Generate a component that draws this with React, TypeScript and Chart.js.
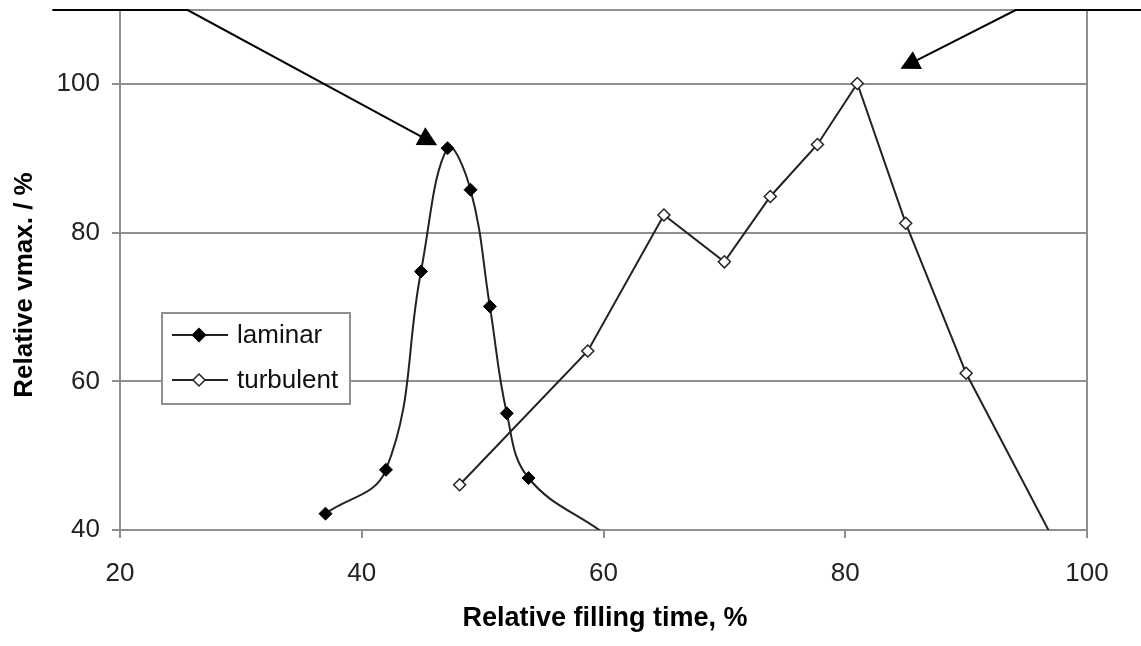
import React, { useEffect, useRef } from "react";
import { Chart, registerables } from "chart.js";

Chart.register(...registerables);

// ---- data ----
const laminarX = [37, 42, 44.9, 47.1, 49.0, 50.6, 52.0, 53.8, 60];
const laminarY = [42.2, 48.1, 74.8, 91.4, 85.8, 70.1, 55.7, 47.0, 39.6];
const turbulentX = [48.1, 58.7, 65, 70, 73.8, 77.7, 81, 85, 90, 97];
const turbulentY = [46.1, 64.1, 82.4, 76.1, 84.9, 91.9, 100.1, 81.3, 61.1, 39.4];
const seriesNames = ["laminar", "turbulent"];
const xTicks = [20, 40, 60, 80, 100];
const yTicks = [40, 60, 80, 100];
const xRange = [20, 100];
const yRange = [40, 110];
const xTitle = "Relative filling time, %";
const yTitle = "Relative vmax. / %";
// annotation arrows (data coordinates): tail -> elbow -> tip
const arrowTails = [[14.4, 110], [104.5, 110]];
const arrowElbows = [[25.6, 110], [94.1, 110]];
const arrowTips = [[46.24, 91.8], [84.57, 102.1]];

const FONT = "'Liberation Sans', Arial, Helvetica, sans-serif";
const GRAY = "#8f8f8f";
const LINE = "#222222";

export default function App() {
  const ref = useRef<HTMLCanvasElement | null>(null);

  useEffect(() => {
    const canvas = ref.current;
    if (!canvas) return;

    const annot = {
      id: "annot",
      afterDraw(chart: any) {
        const { ctx } = chart;
        const xs = chart.scales.x;
        const ys = chart.scales.y;
        const px = (p: number[]) => [xs.getPixelForValue(p[0]), ys.getPixelForValue(p[1])];
        ctx.save();

        // arrows
        ctx.strokeStyle = "#000";
        ctx.fillStyle = "#000";
        ctx.lineWidth = 2;
        for (let i = 0; i < arrowTips.length; i++) {
          const t = px(arrowTails[i]);
          const e = px(arrowElbows[i]);
          const tip = px(arrowTips[i]);
          const dx = tip[0] - e[0];
          const dy = tip[1] - e[1];
          const len = Math.hypot(dx, dy);
          const ux = dx / len;
          const uy = dy / len;
          const L = 19;
          const W = 10;
          const bx = tip[0] - ux * L;
          const by = tip[1] - uy * L;
          ctx.beginPath();
          ctx.moveTo(t[0], t[1]);
          ctx.lineTo(e[0], e[1]);
          ctx.lineTo(bx + ux * 2, by + uy * 2);
          ctx.stroke();
          ctx.beginPath();
          ctx.moveTo(tip[0], tip[1]);
          ctx.lineTo(bx - uy * W, by + ux * W);
          ctx.lineTo(bx + uy * W, by - ux * W);
          ctx.closePath();
          ctx.fill();
        }

        // legend box
        const bx0 = 162, by0 = 313, bw = 188, bh = 91;
        ctx.fillStyle = "#fff";
        ctx.fillRect(bx0, by0, bw, bh);
        ctx.strokeStyle = GRAY;
        ctx.lineWidth = 2;
        ctx.strokeRect(bx0, by0, bw, bh);
        chart.data.datasets.forEach((ds: any, i: number) => {
          const cy = 335 + i * 45;
          ctx.strokeStyle = LINE;
          ctx.lineWidth = 2;
          ctx.beginPath();
          ctx.moveTo(172, cy);
          ctx.lineTo(228, cy);
          ctx.stroke();
          const r = i === 0 ? 6.5 : 6;
          const cx = 199;
          ctx.beginPath();
          ctx.moveTo(cx, cy - r);
          ctx.lineTo(cx + r, cy);
          ctx.lineTo(cx, cy + r);
          ctx.lineTo(cx - r, cy);
          ctx.closePath();
          ctx.fillStyle = ds.pointBackgroundColor;
          ctx.fill();
          ctx.lineWidth = 1.5;
          ctx.strokeStyle = ds.pointBorderColor;
          ctx.stroke();
          ctx.fillStyle = "#111";
          ctx.font = `26px ${FONT}`;
          ctx.textAlign = "left";
          ctx.textBaseline = "middle";
          ctx.fillText(ds.label, 237, cy + 1);
        });

        // axis titles
        ctx.fillStyle = "#000";
        ctx.font = `bold 27px ${FONT}`;
        ctx.textAlign = "center";
        ctx.textBaseline = "middle";
        ctx.fillText(xTitle, 605, 619);
        ctx.save();
        ctx.translate(25, 285);
        ctx.rotate(-Math.PI / 2);
        ctx.font = `bold 26px ${FONT}`;
        ctx.fillText(yTitle, 0, 0);
        ctx.restore();

        ctx.restore();
      },
    };

    const lastIdx = (n: number) => n - 1;

    const chart = new Chart(canvas, {
      type: "line",
      data: {
        datasets: [
          {
            label: seriesNames[0],
            data: laminarX.map((x, i) => ({ x, y: laminarY[i] })),
            borderColor: LINE,
            borderWidth: 2,
            tension: 0.4,
            pointStyle: "rectRot",
            pointRadius: (c: any) => (c.dataIndex === lastIdx(laminarX.length) ? 0 : 6.5),
            pointBackgroundColor: "#000",
            pointBorderColor: "#000",
            pointBorderWidth: 1,
            fill: false,
          },
          {
            label: seriesNames[1],
            data: turbulentX.map((x, i) => ({ x, y: turbulentY[i] })),
            borderColor: LINE,
            borderWidth: 2,
            tension: 0,
            pointStyle: "rectRot",
            pointRadius: (c: any) => (c.dataIndex === lastIdx(turbulentX.length) ? 0 : 6),
            pointBackgroundColor: "#fff",
            pointBorderColor: "#222",
            pointBorderWidth: 1.5,
            fill: false,
          },
        ],
      },
      options: {
        responsive: false,
        animation: false,
        devicePixelRatio: 1,
        layout: { padding: { left: 0, top: 10, right: 54, bottom: 0 } },
        plugins: {
          legend: { display: false },
          tooltip: { enabled: false },
        },
        scales: {
          x: {
            type: "linear",
            min: xRange[0],
            max: xRange[1],
            afterBuildTicks: (s: any) => {
              s.ticks = xTicks.map((v) => ({ value: v }));
            },
            afterFit: (s: any) => {
              s.height = 116;
              s.paddingLeft = 0;
              s.paddingRight = 0;
            },
            ticks: {
              font: { family: FONT, size: 26 },
              color: "#222",
              padding: 20,
              maxRotation: 0,
              autoSkip: false,
            },
            grid: {
              color: (c: any) => (c.tick && c.tick.value === xRange[1] ? GRAY : "rgba(0,0,0,0)"),
              tickColor: GRAY,
              tickLength: 8,
              lineWidth: 2,
            },
            border: { color: GRAY, width: 2 },
          },
          y: {
            type: "linear",
            min: yRange[0],
            max: yRange[1],
            afterBuildTicks: (s: any) => {
              s.ticks = [...yTicks, yRange[1]].map((v) => ({ value: v }));
            },
            afterFit: (s: any) => {
              s.width = 120;
              s.paddingTop = 0;
              s.paddingBottom = 0;
            },
            ticks: {
              font: { family: FONT, size: 26 },
              color: "#222",
              padding: 12,
              autoSkip: false,
              callback: (v: any) => (yTicks.includes(Number(v)) ? String(v) : ""),
            },
            grid: {
              color: GRAY,
              tickColor: GRAY,
              tickLength: 8,
              lineWidth: 2,
            },
            border: { color: GRAY, width: 2 },
          },
        },
      },
      plugins: [annot],
    } as any);

    return () => {
      chart.destroy();
    };
  }, []);

  return (
    <div style={{ position: "fixed", left: 0, top: 0, width: 1141, height: 646, background: "#fff" }}>
      <canvas ref={ref} width={1141} height={646} style={{ display: "block" }} />
    </div>
  );
}
